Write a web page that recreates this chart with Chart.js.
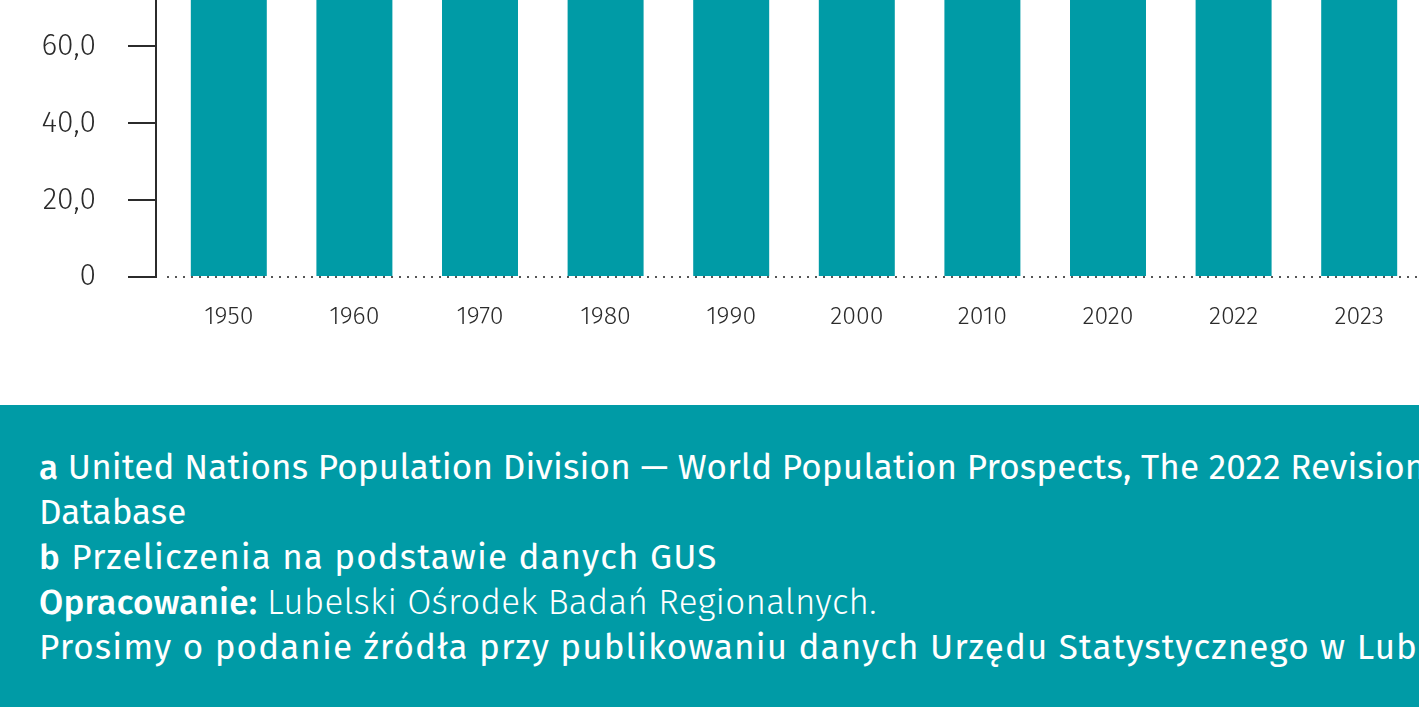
<!DOCTYPE html>
<html lang="pl">
<head>
<meta charset="utf-8">
<script src="https://cdn.jsdelivr.net/npm/chart.js@4.4.0/dist/chart.umd.min.js"></script>
<style>
  html, body { margin: 0; padding: 0; width: 1419px; height: 707px; overflow: hidden; background: #fff; font-family: "Fira Sans", Roboto, sans-serif; }
  #wrap { position: absolute; left: 0; top: -311px; width: 1422px; height: 717px; }
  #footer { position: absolute; left: 0; top: 405px; width: 1419px; height: 302px; background: #009ba6; color: #fff;
            box-sizing: border-box; padding: 40px 0 0 39px; font-size: 35px; line-height: 45px; white-space: nowrap; overflow: hidden; }
  #footer b { font-weight: 500; }
  #footer .light { font-weight: 300; }
  .l1 { letter-spacing: 0.2px; }
  .l4 { letter-spacing: 0.25px; }
  .wide { letter-spacing: 1.1px; }
</style>
</head>
<body>
<div id="wrap"><canvas id="chart"></canvas></div>
<div id="footer">
  <div class="l1"><b>a</b> United Nations Population Division — World Population Prospects, The 2022 Revision</div>
  <div>Database</div>
  <div class="wide"><b>b</b> Przeliczenia na podstawie danych GUS</div>
  <div class="l4"><b>Opracowanie:</b> <span class="light">Lubelski Ośrodek Badań Regionalnych.</span></div>
  <div class="wide">Prosimy o podanie źródła przy publikowaniu danych Urzędu Statystycznego w Lublinie.</div>
</div>
<script>
// lata i wartości (słupki wychodzą poza kadr — wartości szacunkowe)
const years = ["1950", "1960", "1970", "1980", "1990", "2000", "2010", "2020", "2022", "2023"];
const values = [79.9, 95.0, 104.9, 114.0, 121.8, 122.0, 123.1, 122.9, 121.0, 120.4];

const teal = "#009ba6";
const ink = "#2b2b2b";

new Chart(document.getElementById("chart"), {
  type: "bar",
  data: {
    labels: years,
    datasets: [{
      data: values,
      backgroundColor: teal,
      borderWidth: 0,
      barPercentage: 0.605,
      categoryPercentage: 1.0
    }]
  },
  options: {
    responsive: true,
    maintainAspectRatio: false,
    animation: false,
    layout: { padding: 0 },
    plugins: { legend: { display: false }, tooltip: { enabled: false } },
    scales: {
      x: {
        offset: true,
        border: { display: false },
        grid: { display: false, drawTicks: false },
        ticks: { color: ink, padding: 25, maxRotation: 0, font: { family: "Fira Sans, Roboto", size: 25, weight: 300 } },
        afterFit: s => { s.height = 129; }
      },
      y: {
        min: 0,
        max: 140,
        weight: 1,
        z: 1,
        border: { display: true, color: ink, width: 2, dash: [2, 6] },
        grid: {
          drawOnChartArea: true,
          color: c => (c.tick && c.tick.value === 0) ? "#555" : "rgba(0,0,0,0)",
          lineWidth: 2,
          tickLength: 28,
          tickColor: ink,
          tickWidth: 2,
          tickBorderDash: []
        },
        ticks: {
          stepSize: 20,
          padding: 32,
          color: ink,
          font: { family: "Fira Sans, Roboto", size: 30, weight: 300 },
          callback: v => v === 0 ? "0" : v.toFixed(1).replace(".", ",")
        },
        afterFit: s => { s.width = 156; }
      },
      gap: {
        position: "left",
        weight: 0,
        display: true,
        border: { display: false },
        grid: { display: false },
        ticks: { display: false },
        afterFit: s => { s.width = 10; }
      }
    }
  }
});
</script>
</body>
</html>
